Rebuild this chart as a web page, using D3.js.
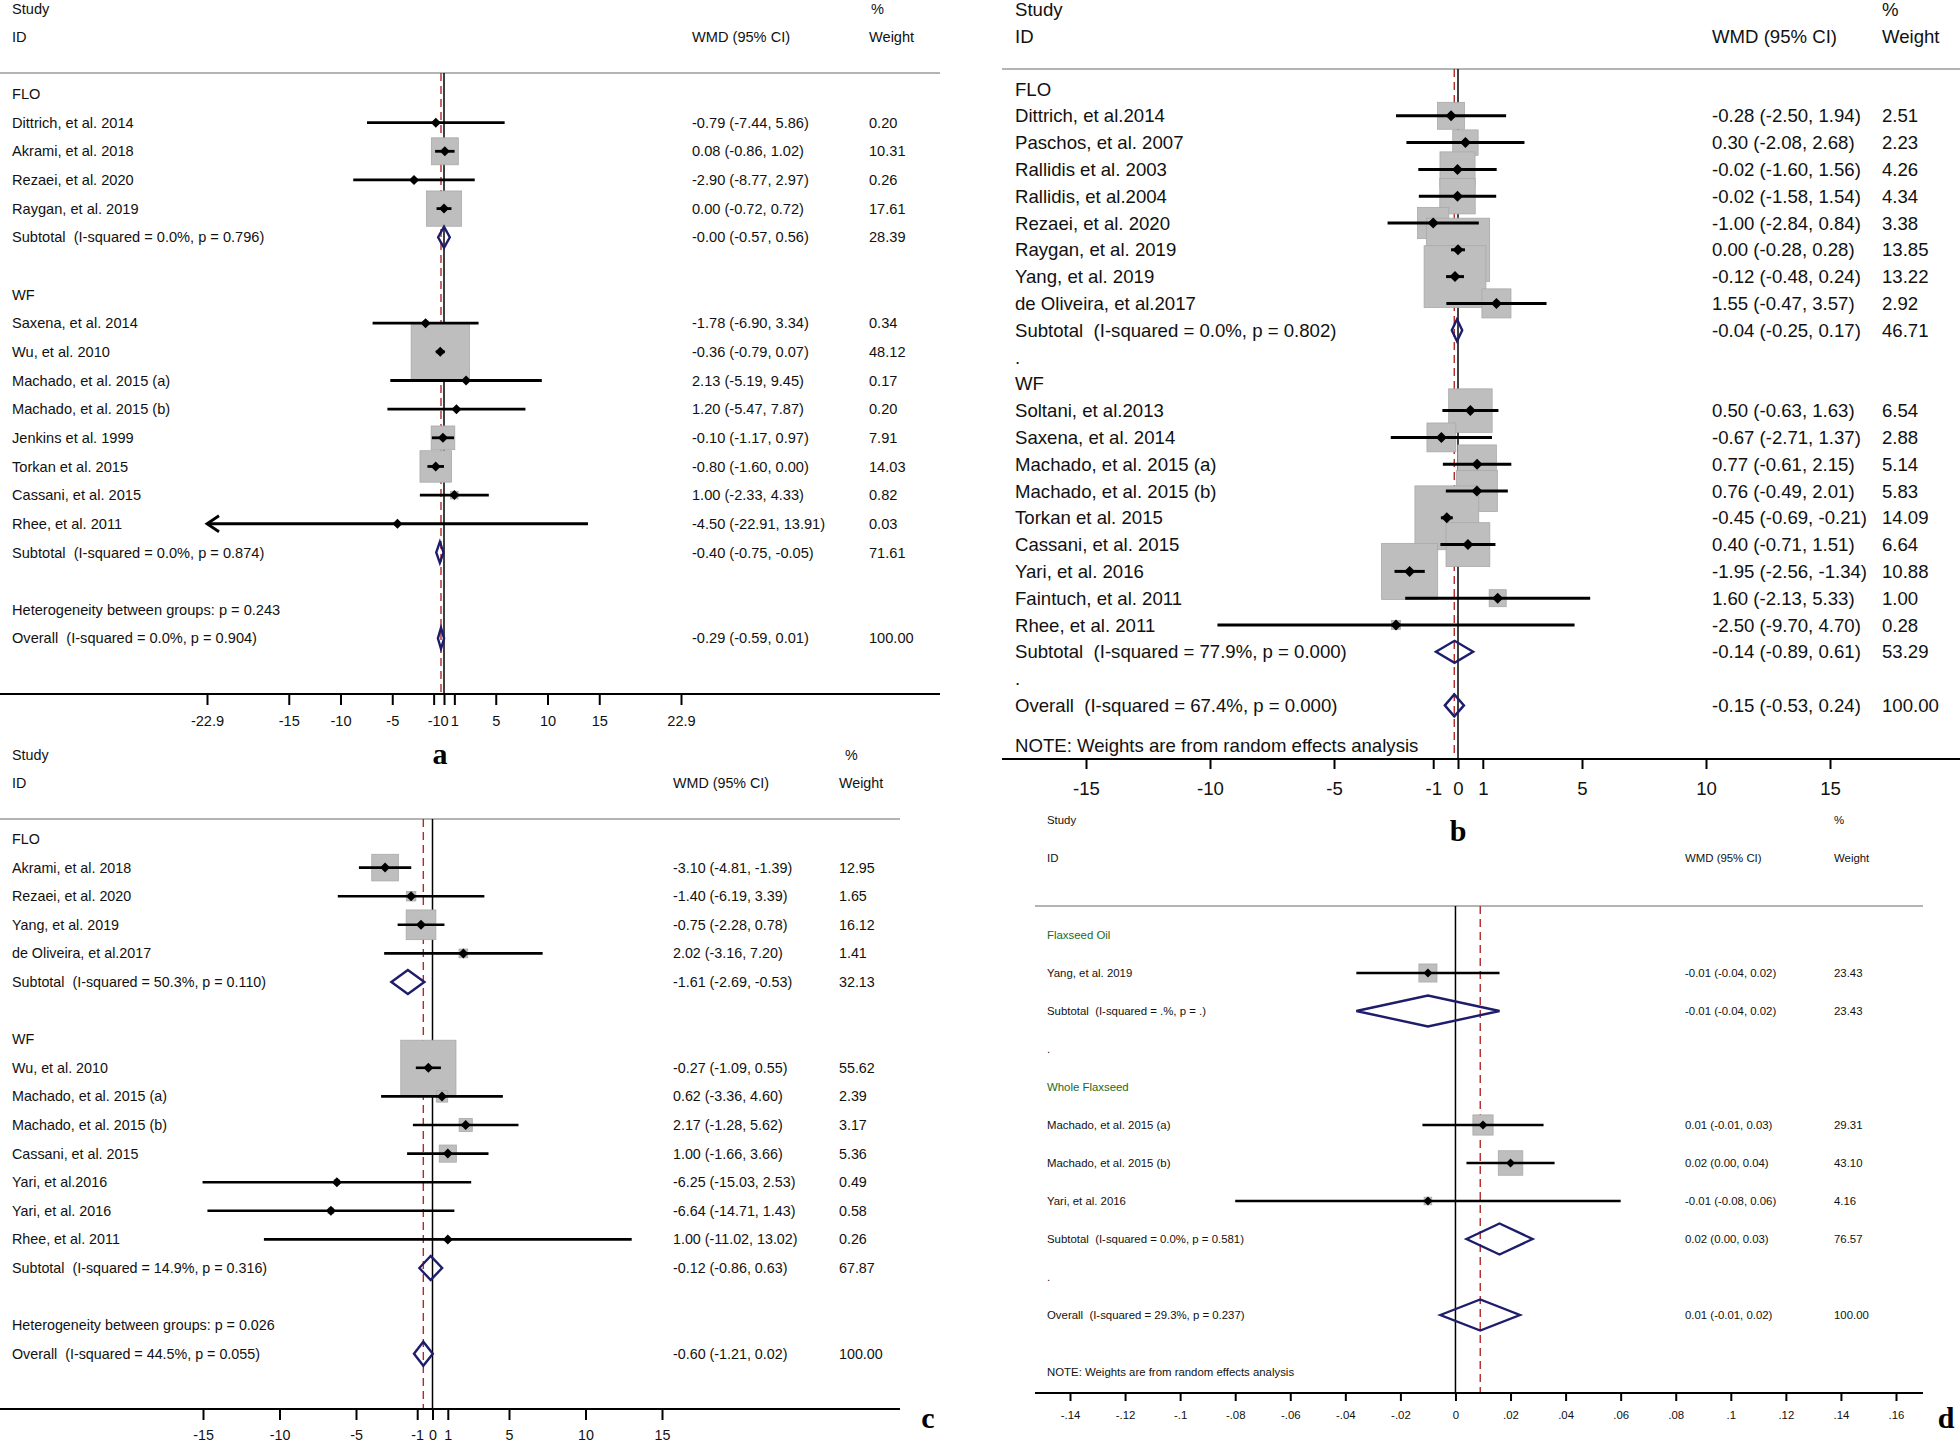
<!DOCTYPE html>
<html><head><meta charset="utf-8">
<script src="https://cdn.jsdelivr.net/npm/d3@7"></script>
<style>
html,body{margin:0;padding:0;background:#fff;}
svg text{font-family:"Liberation Sans",Arial,Helvetica,sans-serif;white-space:pre;fill:#111;}
</style></head><body>
<svg id="chart" width="1960" height="1442"></svg>
<script>
// ---------------- Panel a ----------------
const aLabels = ["FLO","Dittrich, et al. 2014","Akrami, et al. 2018","Rezaei, et al. 2020","Raygan, et al. 2019",
  "Subtotal  (I-squared = 0.0%, p = 0.796)","","WF","Saxena, et al. 2014","Wu, et al. 2010","Machado, et al. 2015 (a)",
  "Machado, et al. 2015 (b)","Jenkins et al. 1999","Torkan et al. 2015","Cassani, et al. 2015","Rhee, et al. 2011",
  "Subtotal  (I-squared = 0.0%, p = 0.874)","","Heterogeneity between groups: p = 0.243","Overall  (I-squared = 0.0%, p = 0.904)"];
const aKinds = ["group","study","study","study","study","pooled","blank","group","study","study","study","study","study","study","study","study","pooled","blank","text","pooled"];
const aEst = [null,-0.79,0.08,-2.90,0.00,-0.00,null,null,-1.78,-0.36,2.13,1.20,-0.10,-0.80,1.00,-4.50,-0.40,null,null,-0.29];
const aLo  = [null,-7.44,-0.86,-8.77,-0.72,-0.57,null,null,-6.90,-0.79,-5.19,-5.47,-1.17,-1.60,-2.33,-22.91,-0.75,null,null,-0.59];
const aHi  = [null,5.86,1.02,2.97,0.72,0.56,null,null,3.34,0.07,9.45,7.87,0.97,0.00,4.33,13.91,-0.05,null,null,0.01];
const aWeight = [null,0.20,10.31,0.26,17.61,28.39,null,null,0.34,48.12,0.17,0.20,7.91,14.03,0.82,0.03,71.61,null,null,100.00];
const aEstText = ["","-0.79 (-7.44, 5.86)","0.08 (-0.86, 1.02)","-2.90 (-8.77, 2.97)","0.00 (-0.72, 0.72)","-0.00 (-0.57, 0.56)","","",
  "-1.78 (-6.90, 3.34)","-0.36 (-0.79, 0.07)","2.13 (-5.19, 9.45)","1.20 (-5.47, 7.87)","-0.10 (-1.17, 0.97)","-0.80 (-1.60, 0.00)",
  "1.00 (-2.33, 4.33)","-4.50 (-22.91, 13.91)","-0.40 (-0.75, -0.05)","","","-0.29 (-0.59, 0.01)"];
const aWText = ["","0.20","10.31","0.26","17.61","28.39","","","0.34","48.12","0.17","0.20","7.91","14.03","0.82","0.03","71.61","","","100.00"];
const aTicks = [-22.9,-15,-10,-5,-1,0,1,5,10,15,22.9];
const aPooled = -0.29;

// ---------------- Panel b ----------------
const bLabels = ["FLO","Dittrich, et al.2014","Paschos, et al. 2007","Rallidis et al. 2003","Rallidis, et al.2004","Rezaei, et al. 2020",
  "Raygan, et al. 2019","Yang, et al. 2019","de Oliveira, et al.2017","Subtotal  (I-squared = 0.0%, p = 0.802)",".","WF",
  "Soltani, et al.2013","Saxena, et al. 2014","Machado, et al. 2015 (a)","Machado, et al. 2015 (b)","Torkan et al. 2015",
  "Cassani, et al. 2015","Yari, et al. 2016","Faintuch, et al. 2011","Rhee, et al. 2011","Subtotal  (I-squared = 77.9%, p = 0.000)",
  ".","Overall  (I-squared = 67.4%, p = 0.000)"];
const bKinds = ["group","study","study","study","study","study","study","study","study","pooled","blank","group",
  "study","study","study","study","study","study","study","study","study","pooled","blank","pooled"];
const bEst = [null,-0.28,0.30,-0.02,-0.02,-1.00,0.00,-0.12,1.55,-0.04,null,null,0.50,-0.67,0.77,0.76,-0.45,0.40,-1.95,1.60,-2.50,-0.14,null,-0.15];
const bLo  = [null,-2.50,-2.08,-1.60,-1.58,-2.84,-0.28,-0.48,-0.47,-0.25,null,null,-0.63,-2.71,-0.61,-0.49,-0.69,-0.71,-2.56,-2.13,-9.70,-0.89,null,-0.53];
const bHi  = [null,1.94,2.68,1.56,1.54,0.84,0.28,0.24,3.57,0.17,null,null,1.63,1.37,2.15,2.01,-0.21,1.51,-1.34,5.33,4.70,0.61,null,0.24];
const bWeight = [null,2.51,2.23,4.26,4.34,3.38,13.85,13.22,2.92,46.71,null,null,6.54,2.88,5.14,5.83,14.09,6.64,10.88,1.00,0.28,53.29,null,100.00];
const bEstText = ["","-0.28 (-2.50, 1.94)","0.30 (-2.08, 2.68)","-0.02 (-1.60, 1.56)","-0.02 (-1.58, 1.54)","-1.00 (-2.84, 0.84)",
  "0.00 (-0.28, 0.28)","-0.12 (-0.48, 0.24)","1.55 (-0.47, 3.57)","-0.04 (-0.25, 0.17)","","",
  "0.50 (-0.63, 1.63)","-0.67 (-2.71, 1.37)","0.77 (-0.61, 2.15)","0.76 (-0.49, 2.01)","-0.45 (-0.69, -0.21)",
  "0.40 (-0.71, 1.51)","-1.95 (-2.56, -1.34)","1.60 (-2.13, 5.33)","-2.50 (-9.70, 4.70)","-0.14 (-0.89, 0.61)","","-0.15 (-0.53, 0.24)"];
const bWText = ["","2.51","2.23","4.26","4.34","3.38","13.85","13.22","2.92","46.71","","","6.54","2.88","5.14","5.83","14.09","6.64","10.88","1.00","0.28","53.29","","100.00"];
const bTicks = [-15,-10,-5,-1,0,1,5,10,15];
const bPooled = -0.15;

// ---------------- Panel c ----------------
const cLabels = ["FLO","Akrami, et al. 2018","Rezaei, et al. 2020","Yang, et al. 2019","de Oliveira, et al.2017",
  "Subtotal  (I-squared = 50.3%, p = 0.110)","","WF","Wu, et al. 2010","Machado, et al. 2015 (a)","Machado, et al. 2015 (b)",
  "Cassani, et al. 2015","Yari, et al.2016","Yari, et al. 2016","Rhee, et al. 2011","Subtotal  (I-squared = 14.9%, p = 0.316)","",
  "Heterogeneity between groups: p = 0.026","Overall  (I-squared = 44.5%, p = 0.055)"];
const cKinds = ["group","study","study","study","study","pooled","blank","group","study","study","study","study","study","study","study","pooled","blank","text","pooled"];
const cEst = [null,-3.10,-1.40,-0.75,2.02,-1.61,null,null,-0.27,0.62,2.17,1.00,-6.25,-6.64,1.00,-0.12,null,null,-0.60];
const cLo  = [null,-4.81,-6.19,-2.28,-3.16,-2.69,null,null,-1.09,-3.36,-1.28,-1.66,-15.03,-14.71,-11.02,-0.86,null,null,-1.21];
const cHi  = [null,-1.39,3.39,0.78,7.20,-0.53,null,null,0.55,4.60,5.62,3.66,2.53,1.43,13.02,0.63,null,null,0.02];
const cWeight = [null,12.95,1.65,16.12,1.41,32.13,null,null,55.62,2.39,3.17,5.36,0.49,0.58,0.26,67.87,null,null,100.00];
const cEstText = ["","-3.10 (-4.81, -1.39)","-1.40 (-6.19, 3.39)","-0.75 (-2.28, 0.78)","2.02 (-3.16, 7.20)","-1.61 (-2.69, -0.53)","","",
  "-0.27 (-1.09, 0.55)","0.62 (-3.36, 4.60)","2.17 (-1.28, 5.62)","1.00 (-1.66, 3.66)","-6.25 (-15.03, 2.53)","-6.64 (-14.71, 1.43)",
  "1.00 (-11.02, 13.02)","-0.12 (-0.86, 0.63)","","","-0.60 (-1.21, 0.02)"];
const cWText = ["","12.95","1.65","16.12","1.41","32.13","","","55.62","2.39","3.17","5.36","0.49","0.58","0.26","67.87","","","100.00"];
const cTicks = [-15,-10,-5,-1,0,1,5,10,15];
const cPooled = -0.60;

// ---------------- Panel d ----------------
const dLabels = ["Flaxseed Oil","Yang, et al. 2019","Subtotal  (I-squared = .%, p = .)",".","Whole Flaxseed",
  "Machado, et al. 2015 (a)","Machado, et al. 2015 (b)","Yari, et al. 2016","Subtotal  (I-squared = 0.0%, p = 0.581)",".",
  "Overall  (I-squared = 29.3%, p = 0.237)"];
const dKinds = ["group","study","pooled","blank","group","study","study","study","pooled","blank","pooled"];
const dEst = [null,-0.010,-0.010,null,null,0.010,0.020,-0.010,0.016,null,0.009];
const dLo  = [null,-0.036,-0.036,null,null,-0.012,0.004,-0.080,0.004,null,-0.0055];
const dHi  = [null,0.016,0.016,null,null,0.032,0.036,0.060,0.028,null,0.0234];
const dWeight = [null,23.43,23.43,null,null,29.31,43.10,4.16,76.57,null,100.00];
const dEstText = ["","-0.01 (-0.04, 0.02)","-0.01 (-0.04, 0.02)","","","0.01 (-0.01, 0.03)","0.02 (0.00, 0.04)","-0.01 (-0.08, 0.06)",
  "0.02 (0.00, 0.03)","","0.01 (-0.01, 0.02)"];
const dWText = ["","23.43","23.43","","","29.31","43.10","4.16","76.57","","100.00"];
const dTicks = [-0.14,-0.12,-0.10,-0.08,-0.06,-0.04,-0.02,0,0.02,0.04,0.06,0.08,0.10,0.12,0.14,0.16];
const dPooled = 0.009;

const noteText = "NOTE: Weights are from random effects analysis";

const svg = d3.select("#chart");
svg.append("rect").attr("width",1960).attr("height",1442).attr("fill","#fff");

function drawForest(c) {
  const g = svg.append("g");
  const x = d3.scaleLinear().domain(c.domain).range(c.range);
  const n = c.labels.length;
  const y = d3.scaleLinear().domain([0, 1]).range([c.y0, c.y0 + c.step]);
  const fs = c.fs;

  // header
  const hdr = [["Study", c.labelX, c.studyY], ["ID", c.labelX, c.idY], ["%", c.pctX, c.studyY],
               ["WMD (95% CI)", c.estX, c.idY], ["Weight", c.wX, c.idY]];
  g.selectAll("text.hdr").data(hdr).join("text").attr("class","hdr")
    .attr("x", d => d[1]).attr("y", d => d[2]).attr("dy","0.35em")
    .style("font-size", fs + "px").text(d => d[0]);

  // separator
  g.append("line").attr("x1", c.lineX0).attr("x2", c.lineX1).attr("y1", c.sepY).attr("y2", c.sepY)
    .attr("stroke", "#b4b4b4").attr("stroke-width", 2);

  // reference lines
  g.append("line").attr("x1", x(0)).attr("x2", x(0)).attr("y1", c.sepY).attr("y2", c.axisY)
    .attr("stroke", "#000").attr("stroke-width", 1.5);
  g.append("line").attr("x1", x(c.pooled)).attr("x2", x(c.pooled)).attr("y1", c.sepY).attr("y2", c.axisY)
    .attr("stroke", "#b02a2a").attr("stroke-width", 1.4).attr("stroke-dasharray", "8,5");

  const rows = d3.range(n).map(i => ({i, label:c.labels[i], kind:c.kinds[i], est:c.est[i], lo:c.lo[i], hi:c.hi[i],
    w:c.weight[i], et:c.estText[i], wt:c.wText[i]}));
  const studies = rows.filter(r => r.kind === "study");
  const pooled = rows.filter(r => r.kind === "pooled");

  // labels
  g.selectAll("text.lab").data(rows).join("text").attr("class","lab")
    .attr("x", c.labelX).attr("y", r => y(r.i)).attr("dy","0.35em")
    .style("font-size", fs + "px")
    .style("fill", r => r.kind === "group" && c.groupColor ? c.groupColor : "#111")
    .text(r => r.label);
  g.selectAll("text.est").data(rows).join("text").attr("class","est")
    .attr("x", c.estX).attr("y", r => y(r.i)).attr("dy","0.35em").style("font-size", fs + "px").text(r => r.et);
  g.selectAll("text.wt").data(rows).join("text").attr("class","wt")
    .attr("x", c.wX).attr("y", r => y(r.i)).attr("dy","0.35em").style("font-size", fs + "px").text(r => r.wt);

  // boxes
  g.selectAll("rect.box").data(studies).join("rect").attr("class","box")
    .attr("x", r => x(r.est) - c.boxK * Math.sqrt(r.w) / 2)
    .attr("y", r => y(r.i) - c.boxK * Math.sqrt(r.w) / 2)
    .attr("width", r => c.boxK * Math.sqrt(r.w))
    .attr("height", r => c.boxK * Math.sqrt(r.w))
    .attr("fill", "#bebebe").attr("stroke", "#a9a9a9").attr("stroke-width", 0.8);

  // CI lines
  const cmin = c.clip ? c.clip[0] : -Infinity, cmax = c.clip ? c.clip[1] : Infinity;
  g.selectAll("line.ci").data(studies).join("line").attr("class","ci")
    .attr("x1", r => x(Math.max(r.lo, cmin))).attr("x2", r => x(Math.min(r.hi, cmax)))
    .attr("y1", r => y(r.i)).attr("y2", r => y(r.i))
    .attr("stroke", "#000").attr("stroke-width", c.ciW);
  // arrows for clipped CIs
  const clipped = studies.filter(r => r.lo < cmin);
  g.selectAll("path.arrow").data(clipped).join("path").attr("class","arrow")
    .attr("d", r => { const x0 = x(cmin), yy = y(r.i); return `M${x0+12},${yy-8}L${x0},${yy}L${x0+12},${yy+8}`; })
    .attr("fill","none").attr("stroke","#000").attr("stroke-width", c.ciW);

  // point markers
  const m = c.markerR;
  g.selectAll("path.pt").data(studies).join("path").attr("class","pt")
    .attr("d", r => { const px = x(r.est), py = y(r.i); return `M${px},${py-m}L${px+m},${py}L${px},${py+m}L${px-m},${py}Z`; })
    .attr("fill", "#000");

  // pooled diamonds
  const h = c.diamondH;
  g.selectAll("path.dia").data(pooled).join("path").attr("class","dia")
    .attr("d", r => { const py = y(r.i); return `M${x(r.lo)},${py}L${x(r.est)},${py-h}L${x(r.hi)},${py}L${x(r.est)},${py+h}Z`; })
    .attr("fill", "none").attr("stroke", "#1d1d6b").attr("stroke-width", 2.4);

  if (c.noteRow != null) {
    g.append("text").attr("x", c.labelX).attr("y", y(c.noteRow)).attr("dy","0.35em")
      .style("font-size", fs + "px").text(noteText);
  }

  // axis
  g.append("line").attr("x1", c.lineX0).attr("x2", c.lineX1).attr("y1", c.axisY).attr("y2", c.axisY)
    .attr("stroke", "#000").attr("stroke-width", 2);
  const ax = g.append("g").attr("transform", `translate(0,${c.axisY})`)
    .call(d3.axisBottom(x).tickValues(c.ticks).tickFormat(c.fmt).tickSize(c.tickLen).tickPadding(4));
  ax.select(".domain").remove();
  ax.selectAll(".tick line").attr("stroke", "#000").attr("stroke-width", 2);
  ax.selectAll(".tick text").attr("y", c.tickLabelY - c.axisY).attr("dy","0.35em")
    .style("font-size", fs + "px").style("font-family", "'Liberation Sans',Arial,sans-serif").attr("fill", "#111");

  // panel letter
  svg.append("text").attr("x", c.letterX).attr("y", c.letterY).attr("text-anchor","middle")
    .style("font-family", "'Liberation Serif','Times New Roman',serif").style("font-weight","bold")
    .style("font-size", "30px").style("fill","#000").text(c.letter);
}

const fmtPlain = d => String(d);
const fmtDot = d => d === 0 ? "0" : String(+d.toFixed(2)).replace("0.", ".");

drawForest({labels:aLabels, kinds:aKinds, est:aEst, lo:aLo, hi:aHi, weight:aWeight, estText:aEstText, wText:aWText,
  ticks:aTicks, fmt:fmtPlain, pooled:aPooled, domain:[-22.9,22.9], range:[207,681], clip:[-22.9,22.9],
  y0:94, step:28.65, fs:14.6, labelX:12, estX:692, wX:869, pctX:871, studyY:9, idY:37,
  sepY:73, lineX0:0, lineX1:940, axisY:694, tickLen:11, tickLabelY:721,
  boxK:8.4, markerR:5, diamondH:10.5, ciW:2.8, letter:"a", letterX:440, letterY:764});

drawForest({labels:bLabels, kinds:bKinds, est:bEst, lo:bLo, hi:bHi, weight:bWeight, estText:bEstText, wText:bWText,
  ticks:bTicks, fmt:fmtPlain, pooled:bPooled, domain:[-15,15], range:[1086,1830], clip:null,
  y0:89, step:26.8, fs:18.6, labelX:1015, estX:1712, wX:1882, pctX:1882, studyY:9, idY:36,
  sepY:69, lineX0:1002, lineX1:1960, axisY:759, tickLen:10, tickLabelY:788, noteRow:24.5,
  boxK:17, markerR:5.5, diamondH:11, ciW:3, letter:"b", letterX:1458, letterY:841});

drawForest({labels:cLabels, kinds:cKinds, est:cEst, lo:cLo, hi:cHi, weight:cWeight, estText:cEstText, wText:cWText,
  ticks:cTicks, fmt:fmtPlain, pooled:cPooled, domain:[-15,15], range:[203,662], clip:null,
  y0:839, step:28.6, fs:14.3, labelX:12, estX:673, wX:839, pctX:845, studyY:755, idY:783,
  sepY:819, lineX0:0, lineX1:900, axisY:1409, tickLen:11, tickLabelY:1435,
  boxK:7.4, markerR:5, diamondH:12, ciW:2.6, letter:"c", letterX:928, letterY:1428});

drawForest({labels:dLabels, kinds:dKinds, est:dEst, lo:dLo, hi:dHi, weight:dWeight, estText:dEstText, wText:dWText,
  ticks:dTicks, fmt:fmtDot, pooled:dPooled, domain:[-0.14,0.16], range:[1070,1896], clip:null,
  y0:935, step:38, fs:11.4, labelX:1047, estX:1685, wX:1834, pctX:1834, studyY:820, idY:858,
  sepY:906, lineX0:1035, lineX1:1923, axisY:1393, tickLen:8, tickLabelY:1415, noteRow:11.5, groupColor:"#1b6a1b",
  boxK:3.73, markerR:4.5, diamondH:15.5, ciW:2.6, letter:"d", letterX:1946, letterY:1428});
</script>
</body></html>
